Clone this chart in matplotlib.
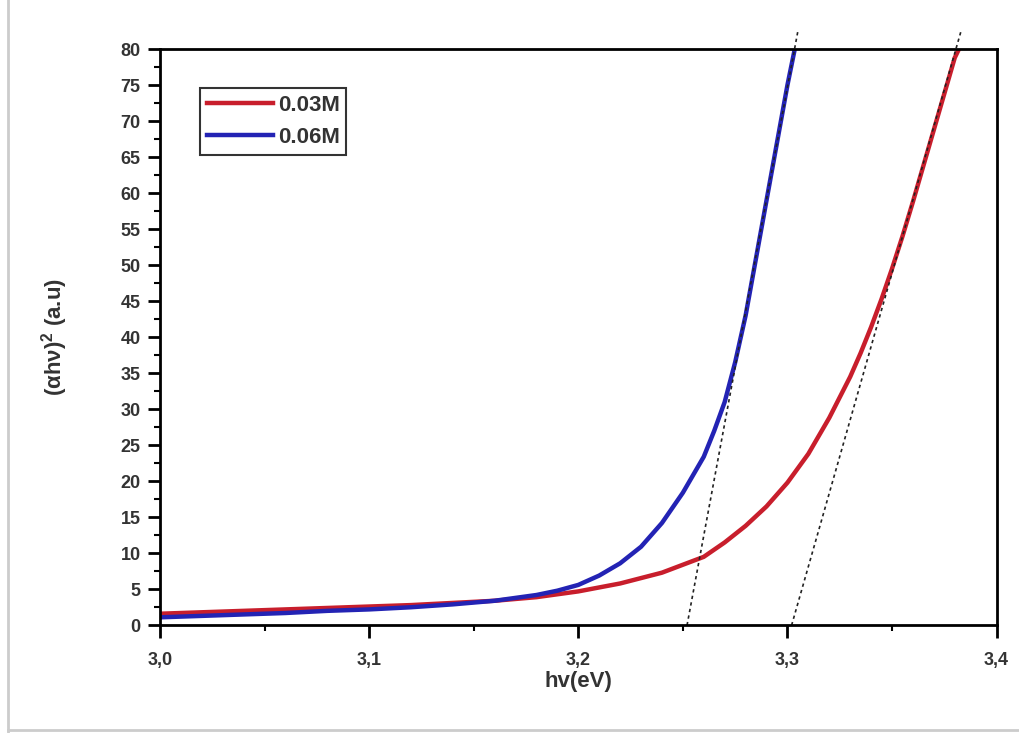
import matplotlib.pyplot as plt
from matplotlib.ticker import MultipleLocator, FuncFormatter
from matplotlib.lines import Line2D

plt.rcParams['font.family'] = ['Liberation Sans', 'DejaVu Sans']
plt.rcParams['mathtext.fontset'] = 'custom'
plt.rcParams['mathtext.bf'] = 'Liberation Sans:bold'

# 0.03M sample
x_03 = [3.00, 3.02, 3.04, 3.06, 3.08, 3.10, 3.12, 3.14, 3.16, 3.18, 3.20,
        3.22, 3.24, 3.26, 3.27, 3.28, 3.29, 3.30, 3.31, 3.32, 3.33, 3.335,
        3.34, 3.345, 3.35, 3.355, 3.36, 3.365, 3.37, 3.375, 3.38, 3.382]
y_03 = [1.6, 1.8, 2.0, 2.2, 2.4, 2.6, 2.8, 3.1, 3.4, 3.9, 4.7,
        5.8, 7.3, 9.5, 11.5, 13.8, 16.5, 19.8, 23.8, 28.8, 34.5, 37.8,
        41.4, 45.3, 49.5, 54.0, 58.8, 63.8, 68.8, 73.8, 78.8, 80.0]

# 0.06M sample
x_06 = [3.00, 3.02, 3.04, 3.06, 3.08, 3.10, 3.12, 3.14, 3.16, 3.18, 3.19,
        3.20, 3.21, 3.22, 3.23, 3.24, 3.25, 3.26, 3.265, 3.27, 3.275, 3.28,
        3.285, 3.29, 3.295, 3.30, 3.3035]
y_06 = [1.1, 1.3, 1.5, 1.7, 2.0, 2.2, 2.5, 2.9, 3.4, 4.2, 4.8,
        5.6, 6.9, 8.6, 10.9, 14.2, 18.4, 23.4, 27.0, 31.0, 36.5, 43.0,
        51.0, 59.0, 67.0, 75.0, 80.0]

# tangent (Tauc) lines: x at y=0 and x at the top end
tan_06_x = [3.252, 3.305]
tan_03_x = [3.302, 3.383]
tan_y = [0, 82.5]

labels = ['0.03M', '0.06M']
red = '#c81e2c'
blue = '#2323b4'

fig = plt.figure(figsize=(10.19, 7.33), dpi=100)
ax = fig.add_axes([0.157, 0.147, 0.821, 0.786])

ax.plot(x_03, y_03, color=red, lw=3.2, solid_capstyle='butt', solid_joinstyle='round')
ax.plot(x_06, y_06, color=blue, lw=3.2, solid_capstyle='butt', solid_joinstyle='round')

ax.plot(tan_06_x, tan_y, color='#222222', lw=1.2, ls=(0, (2, 2)), clip_on=False)
ax.plot(tan_03_x, tan_y, color='#222222', lw=1.2, ls=(0, (2, 2)), clip_on=False)

ax.set_xlim(3.0, 3.4)
ax.set_ylim(0, 80)

ax.xaxis.set_major_locator(MultipleLocator(0.1))
ax.xaxis.set_minor_locator(MultipleLocator(0.05))
ax.yaxis.set_major_locator(MultipleLocator(5))
ax.yaxis.set_minor_locator(MultipleLocator(2.5))
ax.xaxis.set_major_formatter(FuncFormatter(lambda v, p: f'{v:.1f}'.replace('.', ',')))

ax.tick_params(which='major', direction='out', length=9, width=2,
               labelsize=13, labelcolor='#333333')
ax.tick_params(which='minor', direction='out', length=4, width=1.5)
ax.tick_params(axis='x', which='major', pad=10)
ax.tick_params(axis='y', which='major', pad=5)
for lab in ax.get_xticklabels() + ax.get_yticklabels():
    lab.set_fontweight('bold')
for s in ax.spines.values():
    s.set_linewidth(2)

ax.set_xlabel('hv(eV)', fontsize=16, fontweight='bold', color='#333333', labelpad=2)
ax.set_ylabel('(αhν)$^{\\mathbf{2}}$ (a.u)', fontsize=16, fontweight='bold',
              color='#333333', labelpad=36)

handles = [Line2D([], [], color=red, lw=3.2), Line2D([], [], color=blue, lw=3.2)]
leg = ax.legend(handles, labels, loc='upper left', bbox_to_anchor=(0.048, 0.932),
                fancybox=False, edgecolor='#333333', framealpha=1,
                prop={'weight': 'bold', 'size': 16}, handlelength=3.0,
                handletextpad=0.2, borderpad=0.3, labelspacing=0.5,
                borderaxespad=0)
leg.get_frame().set_linewidth(1.5)
for t in leg.get_texts():
    t.set_color('#333333')

# light frame around the picture
fig.add_artist(Line2D([0.008, 0.008], [0.0, 1.0], color='#cccccc', lw=2))
fig.add_artist(Line2D([0.008, 1.0], [0.004, 0.004], color='#cccccc', lw=2))

fig.savefig('out.png', dpi=100)
